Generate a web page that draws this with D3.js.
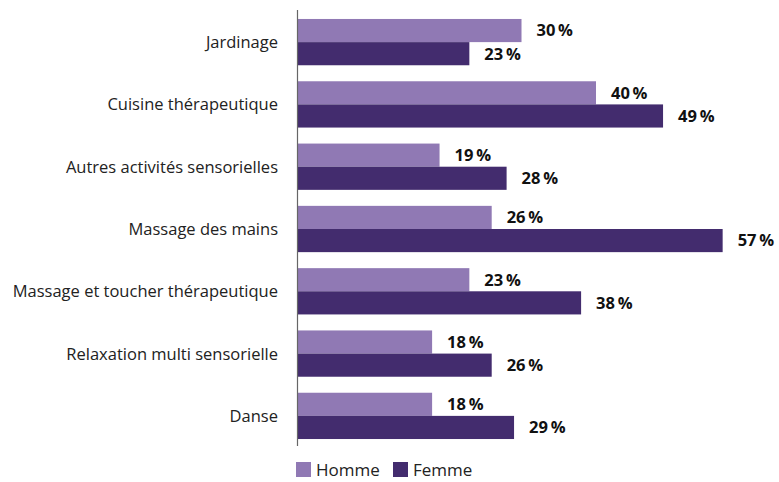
<!DOCTYPE html>
<html>
<head>
	<meta charset="utf-8">
	<title>Activités</title>
	<script src="https://d3js.org/d3.v7.min.js"></script>
	<style>
		body { margin: 0; background: #fff; overflow: hidden; }
		text { font-family: "Open Sans", "Noto Sans", sans-serif; }
	</style>
</head>
<body>
	<div class="chart"></div>

	<script type="text/javascript">
		const width = 779
		const height = 482

		// données
		const categories = ['Jardinage', 'Cuisine thérapeutique', 'Autres activités sensorielles',
			'Massage des mains', 'Massage et toucher thérapeutique', 'Relaxation multi sensorielle', 'Danse']
		const homme = [30, 40, 19, 26, 23, 18, 18]
		const femme = [23, 49, 28, 57, 38, 26, 29]
		const seriesNames = ['Homme', 'Femme']
		const colors = ['#9079b4', '#432c6e']

		const rows = categories.map((c, i) => ({ name: c, values: [homme[i], femme[i]] }))

		const svg = d3.select('.chart').append('svg')
			.attr('width', width)
			.attr('height', height)
			.style('display', 'block')

		const x = d3.scaleLinear([0, 60], [298, 298 + 60 * 7.45])
		const y = d3.scaleBand(categories, [11, 447]).paddingInner(0.257).paddingOuter(0.128)
		const ySub = d3.scaleBand(seriesNames, [0, y.bandwidth()])

		const group = svg.append('g')
			.selectAll('g')
			.data(rows)
			.join('g')
			.attr('transform', d => `translate(0, ${y(d.name)})`)

		group.selectAll('rect')
			.data(d => d.values.map((v, i) => ({ key: seriesNames[i], value: v, i })))
			.join('rect')
			.attr('x', x(0))
			.attr('y', d => ySub(d.key))
			.attr('width', d => x(d.value) - x(0))
			.attr('height', ySub.bandwidth())
			.attr('fill', d => colors[d.i])

		group.selectAll('text.val')
			.data(d => d.values.map((v, i) => ({ key: seriesNames[i], value: v, i })))
			.join('text')
			.attr('class', 'val')
			.attr('x', d => x(d.value) + 15)
			.attr('y', d => ySub(d.key) + ySub.bandwidth() / 2)
			.attr('dy', '0.36em')
			.attr('font-size', 16.5)
			.attr('font-weight', 'bold')
			.attr('fill', '#111')
			.text(d => d.value + '\u2009%')

		// étiquettes des catégories
		group.append('text')
			.attr('x', 278)
			.attr('y', y.bandwidth() / 2)
			.attr('dy', '0.36em')
			.attr('text-anchor', 'end')
			.attr('font-size', 16.5)
			.attr('fill', '#222')
			.text(d => d.name)

		// axe vertical
		svg.append('line')
			.attr('x1', x(0) - 0.5).attr('x2', x(0) - 0.5)
			.attr('y1', 10).attr('y2', 446)
			.attr('stroke', '#666')
			.attr('stroke-width', 1.2)

		// légende (remontée pour rester entière)
		const legendX = [296, 393]
		const legend = svg.append('g')
			.selectAll('g')
			.data(seriesNames)
			.join('g')
			.attr('transform', (d, i) => `translate(${legendX[i]}, 462)`)

		legend.append('rect')
			.attr('width', 15)
			.attr('height', 15)
			.attr('fill', (d, i) => colors[i])

		legend.append('text')
			.attr('x', 20)
			.attr('y', 14)
			.attr('font-size', 17)
			.attr('fill', '#222')
			.text(d => d)
	</script>
</body>
</html>
